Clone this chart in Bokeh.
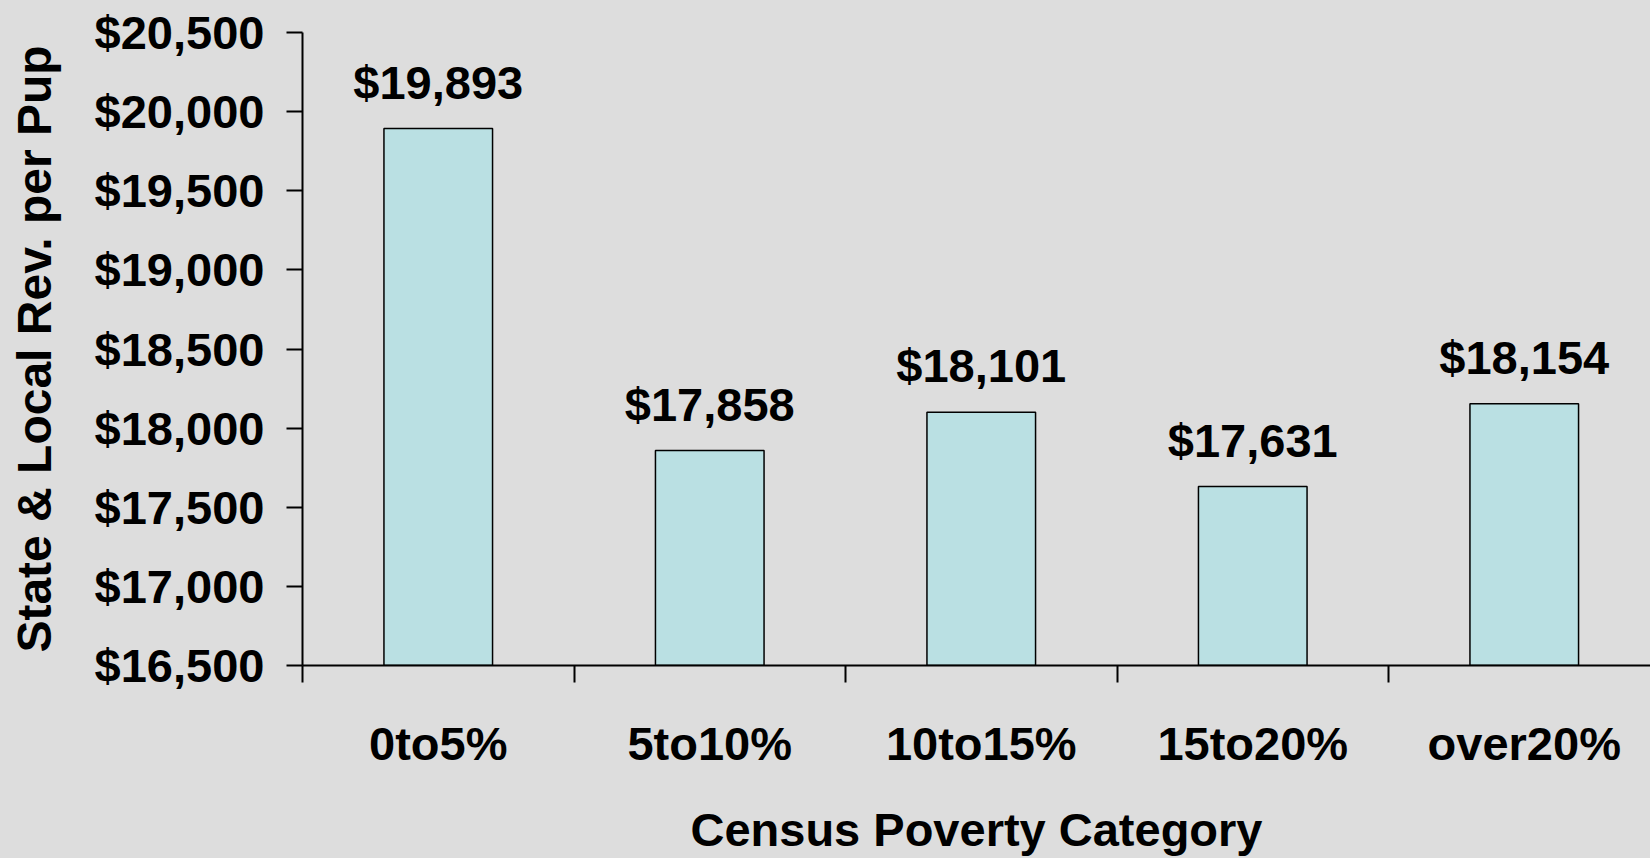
from bokeh.plotting import figure
from bokeh.models import Range1d, FixedTicker, NumeralTickFormatter, ColumnDataSource, LabelSet
from bokeh.core.properties import value
from bokeh.embed import file_html
from bokeh.resources import INLINE

categories = ["0to5%", "5to10%", "10to15%", "15to20%", "over20%"]
values = [19893, 17858, 18101, 17631, 18154]
value_labels = ["$19,893", "$17,858", "$18,101", "$17,631", "$18,154"]
y_ticks = [16500, 17000, 17500, 18000, 18500, 19000, 19500, 20000, 20500]

FONT = "Liberation Sans"
BG = "#DDDDDD"
FS = "47px"

centers = [i + 0.5 for i in range(len(categories))]
src = ColumnDataSource(dict(x=centers, top=values, lab=value_labels))

p = figure(width=1650, height=858, output_backend="svg", toolbar_location=None,
           x_range=Range1d(0, 4.965), y_range=Range1d(16500, 20500),
           min_border_left=302, min_border_right=0, min_border_top=32, min_border_bottom=185)
p.background_fill_color = BG
p.border_fill_color = BG
p.outline_line_color = None
p.grid.visible = False

p.vbar(x="x", top="top", bottom=16500, width=0.4, source=src,
       fill_color="#BAE0E3", line_color="black", line_width=1.5)

labels = LabelSet(x="x", y="top", text="lab", source=src, y_offset=30,
                  text_align="center", text_baseline="alphabetic",
                  text_font=value(FONT), text_font_style="bold", text_font_size=FS,
                  text_color="black")
p.add_layout(labels)

# x axis: boundaries as minor ticks, labels at centers
xa = p.xaxis[0]
xa.ticker = FixedTicker(ticks=centers, minor_ticks=list(range(len(categories) + 1)))
xa.major_label_overrides = {c: lab for c, lab in zip(centers, categories)}
xa.major_tick_out = 0
xa.major_tick_in = 0
xa.minor_tick_out = 17
xa.minor_tick_in = 0
xa.minor_tick_line_color = "black"
xa.minor_tick_line_width = 2
xa.axis_line_color = "black"
xa.axis_line_width = 2
xa.major_label_text_font = FONT
xa.major_label_text_font_style = "bold"
xa.major_label_text_font_size = FS
xa.major_label_text_color = "black"
xa.major_label_standoff = 34
xa.axis_label = "Census Poverty Category"
xa.axis_label_text_font = FONT
xa.axis_label_text_font_style = "bold"
xa.axis_label_text_font_size = FS
xa.axis_label_text_color = "black"
xa.axis_label_standoff = 30

ya = p.yaxis[0]
ya.ticker = FixedTicker(ticks=y_ticks, minor_ticks=[])
ya.formatter = NumeralTickFormatter(format="$0,0")
ya.major_tick_out = 16
ya.major_tick_in = 0
ya.major_tick_line_color = "black"
ya.major_tick_line_width = 2
ya.axis_line_color = "black"
ya.axis_line_width = 2
ya.major_label_text_font = FONT
ya.major_label_text_font_style = "bold"
ya.major_label_text_font_size = FS
ya.major_label_text_color = "black"
ya.major_label_standoff = 22
ya.axis_label = "State & Local Rev. per Pup"
ya.axis_label_text_font = FONT
ya.axis_label_text_font_style = "bold"
ya.axis_label_text_font_size = "48px"
ya.axis_label_text_color = "black"
ya.axis_label_standoff = 31

html = file_html(p, INLINE)
html = html.replace("</head>", "<style>html, body { background: #DDDDDD; }</style></head>", 1)
open("out.html", "w").write(html)
